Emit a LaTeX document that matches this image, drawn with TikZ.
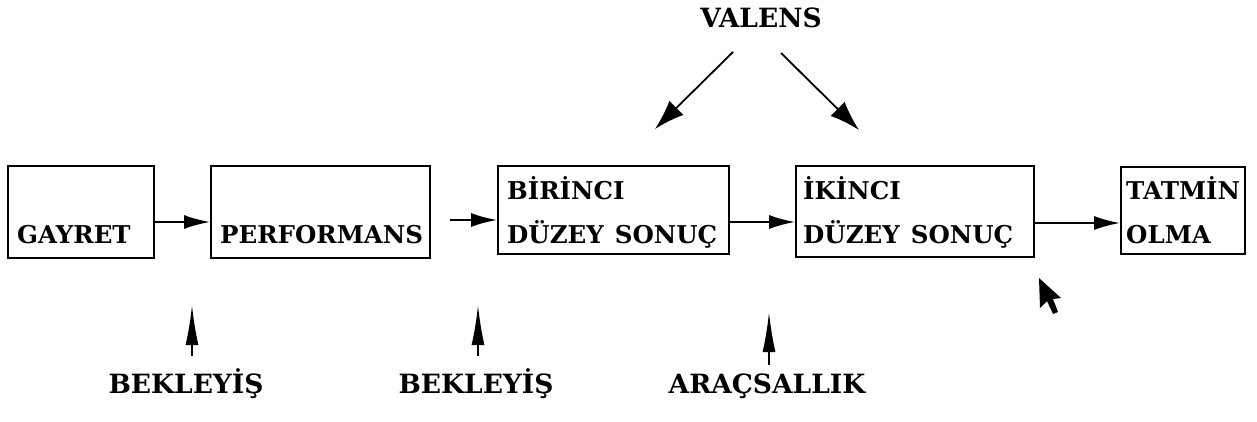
\documentclass[tikz,border=0pt]{standalone}
\usepackage{fontspec}
\setmainfont{DejaVu Serif}
\usetikzlibrary{arrows.meta}
\begin{document}
\begin{tikzpicture}[x=1pt,y=-1pt,
  box/.style={draw=black,line width=1.8pt,inner sep=0pt},
  txt/.style={anchor=base west,inner sep=0pt,font=\fontsize{24.5}{28}\selectfont\bfseries},
  lab/.style={anchor=base,inner sep=0pt,font=\fontsize{26.5}{30}\selectfont\bfseries},
  conn/.style={line width=2pt,-{Latex[length=26pt,width=14pt]}},
  upconn/.style={line width=2pt,-{Latex[length=40pt,width=13pt]}},
  diag/.style={line width=1.8pt,-{Latex[length=30pt,width=20pt]}}]
\useasboundingbox (0,0) rectangle (1257,422);
% boxes
\node[box,minimum width=146pt,minimum height=92pt] (gay) at (81,212) {};
\node[box,minimum width=219pt,minimum height=92pt] (per) at (320.5,212) {};
\node[box,minimum width=231pt,minimum height=88pt] (bir) at (613.5,210) {};
\node[box,minimum width=238pt,minimum height=91pt] (iki) at (915,211.5) {};
\node[box,minimum width=124pt,minimum height=87pt] (tat) at (1183,210.5) {};
% texts
\node[txt] (tgay) at (17,243) {GAYRET};
\node[txt] (tper) at (220,243) {PERFORMANS};
\node[txt] (tbir1) at (507,200) {BİRİNCI};
\node[txt] (tbir2) at (507,243) {DÜZEY\hspace{0.45em}SONUÇ};
\node[txt] (tiki1) at (803,200) {İKİNCI};
\node[txt] (tiki2) at (803,243) {DÜZEY\hspace{0.45em}SONUÇ};
\node[txt] (ttat1) at (1126,200) {TATMİN};
\node[txt] (ttat2) at (1126,243) {OLMA};
% horizontal connectors
\draw[conn] (gay.east |- 0,222) -- (per.west |- 0,222);
\draw[conn,shorten <=19pt] (per.east |- 0,220) -- (bir.west |- 0,220);
\draw[conn] (bir.east |- 0,222) -- (iki.west |- 0,222);
\draw[conn] (iki.east |- 0,223) -- (tat.west |- 0,223);
% valens
\node[lab] (val) at (761,28) {VALENS};
\coordinate (v1) at (655,129);
\coordinate (v2) at (859,130);
\draw[diag] (733,52) -- (v1);
\draw[diag] (781,53) -- (v2);
% bottom labels
\node[lab] (b1) at (186,393) {BEKLEYİŞ};
\node[lab] (b2) at (476,393) {BEKLEYİŞ};
\node[lab] (b3) at (767,393) {ARAÇSALLIK};
\coordinate (u1) at (192,305);
\coordinate (u2) at (478,305);
\coordinate (u3) at (769,312);
\draw[upconn] (b1.north -| u1) ++(0,-12) -- (u1);
\draw[upconn] (b2.north -| u2) ++(0,-12) -- (u2);
\draw[upconn] (b3.north -| u3) ++(0,-8) -- (u3);
% cursor
\fill[black] (1039,278) -- (1040,308) -- (1047,301) -- (1053,314) -- (1058,312) -- (1053,299) -- (1061,298) -- cycle;
\end{tikzpicture}
\end{document}
